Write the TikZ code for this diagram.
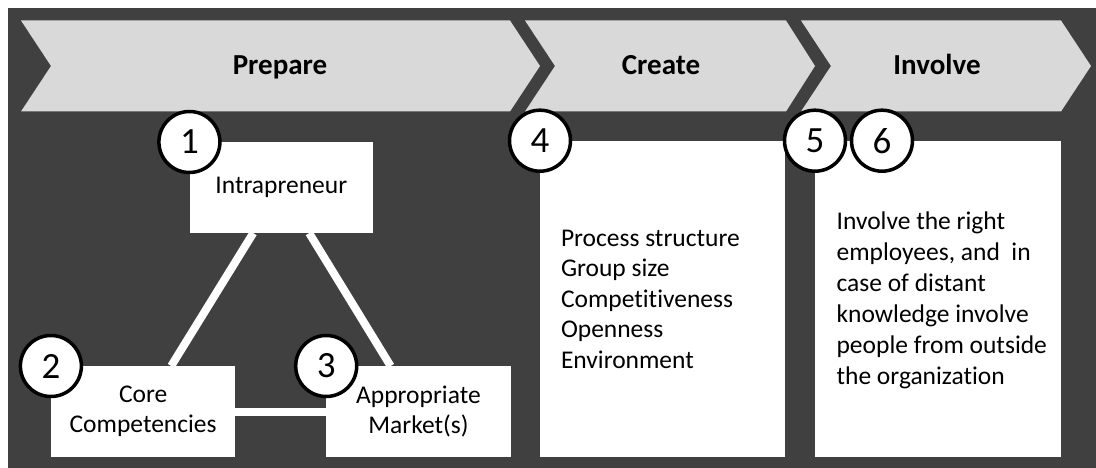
\documentclass[tikz,border=0pt]{standalone}
\usepackage{fontspec}
\setmainfont{Carlito}[Ligatures={NoCommon}]
\definecolor{bgdark}{HTML}{404040}
\definecolor{chevfill}{HTML}{D9D9D9}
\begin{document}
\begin{tikzpicture}[x=1pt,y=-1pt,
  chevron/.style={fill=chevfill},
  head/.style={font=\bfseries\fontsize{29}{34}\selectfont, anchor=base, inner sep=0pt},
  whitebox/.style={fill=white, draw=none, inner sep=0pt, anchor=north west, align=center,
     font=\fontsize{25.5}{30}\selectfont},
  body/.style={font=\fontsize{25.5}{30.5}\selectfont, inner sep=0pt, align=left, anchor=base west},
  numcircle/.style={circle, draw=black, line width=3.5pt, fill=white, minimum size=61pt,
     inner sep=0pt, font=\fontsize{37}{42}\selectfont},
  link/.style={draw=white, line width=8pt}
]
\useasboundingbox (0,0) rectangle (1096,468);
\fill[white] (0,0) rectangle (1096,468);
\fill[bgdark] (8,8) rectangle (1096,468);

% chevrons
\fill[chevron] (21,20.5) -- (510,20.5) -- (540,66) -- (510,111.5) -- (21,111.5) -- (51,66) -- cycle;
\fill[chevron] (525,20.5) -- (786,20.5) -- (815,66) -- (786,111.5) -- (525,111.5) -- (555,66) -- cycle;
\fill[chevron] (801,20.5) -- (1061,20.5) -- (1091,66) -- (1061,111.5) -- (801,111.5) -- (831,66) -- cycle;

\node[head] (hprep) at (280,74.3) {Prepare};
\node[head] (hcreate) at (661,74.3) {Create};
\node[head] (hinv) at (937,74.3) {Involve};

% boxes
\node[whitebox, minimum width=183.4pt, minimum height=90.7pt] (intra) at (189.4,142) {Intrapreneur};
\node[whitebox, minimum width=184.1pt, minimum height=90.7pt] (core) at (50.9,366) {Core\\Competencies};
\node[whitebox, minimum width=184.1pt, minimum height=90.7pt] (appr) at (326.2,366) {Appropriate\\Market(s)};
\node[whitebox, minimum width=245pt, minimum height=316pt] (b4) at (540,140.7) {};
\node[whitebox, minimum width=246pt, minimum height=316pt] (b6) at (815,140.7) {};

% links
\draw[link] (intra) -- (core);
\draw[link] (intra) -- (appr);
\draw[link] (core) -- (appr);

% texts (base anchor = baseline of the last line)
\node[body] (t4) at (560.8,368) {Process structure\\Group size\\Competitiveness\\Openness\\Environment};
\node[body, font=\fontsize{25.5}{31}\selectfont] (t6) at (836.4,384.7) {Involve the right\\employees, and~ in\\case of distant\\knowledge involve\\people from outside\\the organization};

% numbers
\node[numcircle] (n1) at (intra.north west) {1};
\node[numcircle] (n2) at (core.north west) {2};
\node[numcircle] (n3) at (appr.north west) {3};
\node[numcircle] (n4) at (b4.north west) {4};
\node[numcircle] (n5) at (b6.north west) {5};
\node[numcircle] (n6) at ([xshift=67pt]b6.north west) {6};
\end{tikzpicture}
\end{document}
